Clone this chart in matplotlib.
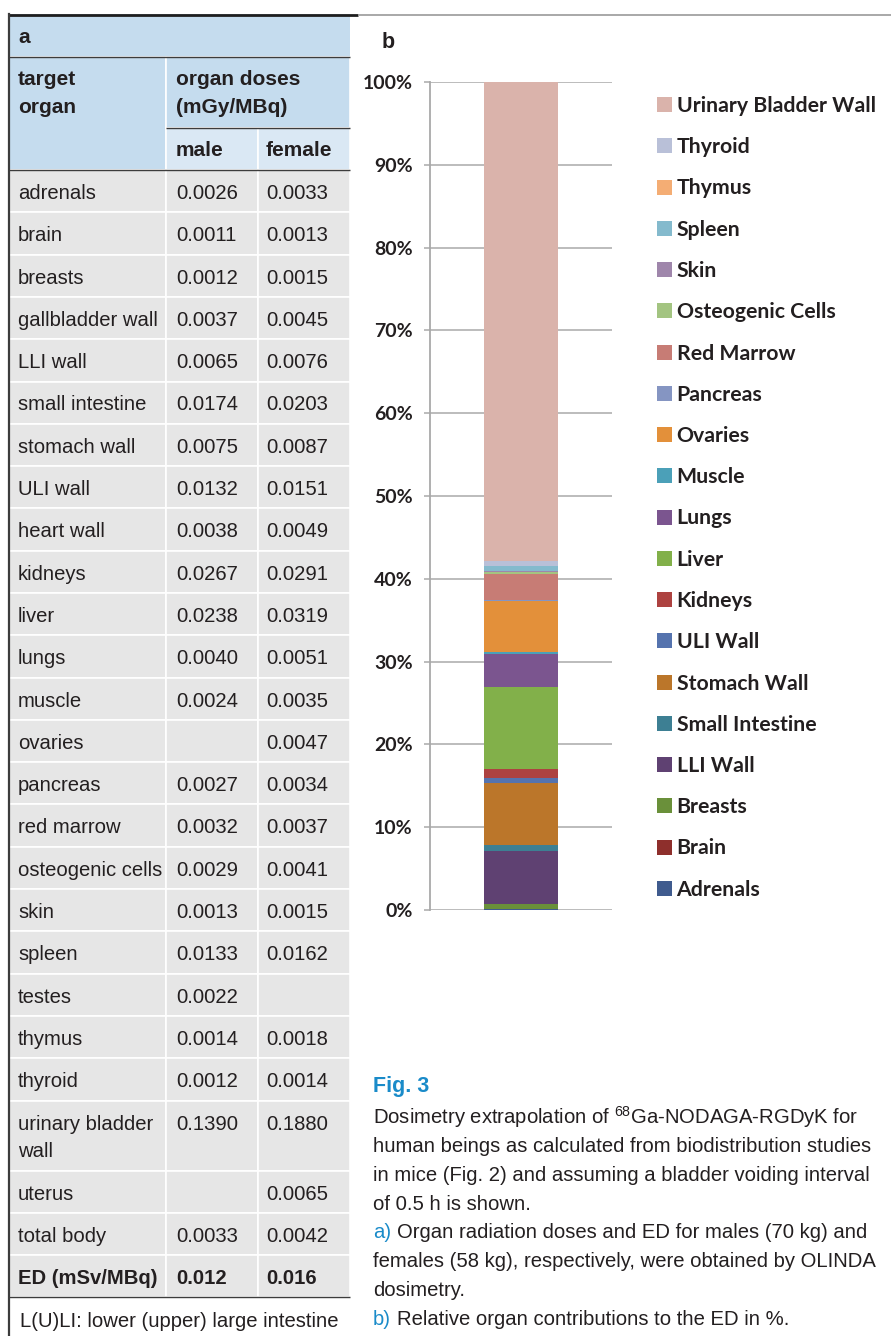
import matplotlib
matplotlib.use('agg')
import matplotlib.pyplot as plt
from matplotlib.patches import Rectangle
import numpy as np

nan = np.nan

# organ doses in mGy/MBq (nan = organ not present)
organs = ['adrenals', 'brain', 'breasts', 'gallbladder wall', 'LLI wall', 'small intestine',
          'stomach wall', 'ULI wall', 'heart wall', 'kidneys', 'liver', 'lungs', 'muscle',
          'ovaries', 'pancreas', 'red marrow', 'osteogenic cells', 'skin', 'spleen', 'testes',
          'thymus', 'thyroid', 'urinary bladder\nwall', 'uterus', 'total body']
male_dose = [0.0026, 0.0011, 0.0012, 0.0037, 0.0065, 0.0174, 0.0075, 0.0132, 0.0038, 0.0267,
             0.0238, 0.0040, 0.0024, nan, 0.0027, 0.0032, 0.0029, 0.0013, 0.0133, 0.0022,
             0.0014, 0.0012, 0.1390, nan, 0.0033]
female_dose = [0.0033, 0.0013, 0.0015, 0.0045, 0.0076, 0.0203, 0.0087, 0.0151, 0.0049, 0.0291,
               0.0319, 0.0051, 0.0035, 0.0047, 0.0034, 0.0037, 0.0041, 0.0015, 0.0162, nan,
               0.0018, 0.0014, 0.1880, 0.0065, 0.0042]
ed_male, ed_female = 0.012, 0.016

# relative contributions to the ED in %, stacked bottom to top
contrib_organs = ['Adrenals', 'Brain', 'Breasts', 'LLI Wall', 'Small Intestine', 'Stomach Wall',
                  'ULI Wall', 'Kidneys', 'Liver', 'Lungs', 'Muscle', 'Ovaries', 'Pancreas',
                  'Red Marrow', 'Osteogenic Cells', 'Skin', 'Spleen', 'Thymus', 'Thyroid',
                  'Urinary Bladder Wall']
contrib_pct = [0.12, 0.06, 0.55, 6.4, 0.73, 7.5, 0.56, 1.13, 9.9, 4.0, 0.24, 6.16, 0.08,
               3.2, 0.25, 0.12, 0.5, 0.05, 0.56, 57.89]
contrib_colors = ['#3f5b8e', '#8e2f2c', '#6a903a', '#5f4172', '#3d7f93', '#bb762a',
                  '#5573ae', '#ad4240', '#82b04a', '#7b558f', '#4ba0b8', '#e3903a',
                  '#8595c2', '#c77c75', '#a3c481', '#9f86ab', '#84bacd', '#f4ad74',
                  '#b9c0d8', '#dab3ab']

caption = ['Dosimetry extrapolation of $^{\\mathrm{68}}$Ga-NODAGA-RGDyK for',
           'human beings as calculated from biodistribution studies',
           'in mice (Fig. 2) and assuming a bladder voiding interval',
           'of 0.5 h is shown.',
           ('a)', 'Organ radiation doses and ED for males (70 kg) and'),
           'females (58 kg), respectively, were obtained by OLINDA',
           'dosimetry.',
           ('b)', 'Relative organ contributions to the ED in %.')]

SANS = 'Liberation Sans'
plt.rcParams['mathtext.fontset'] = 'custom'
plt.rcParams['mathtext.rm'] = SANS
INK = '#231f20'
BLUE_HEAD = '#c5dcee'
BLUE_SUB = '#dae8f4'
GREY_CELL = '#e6e6e6'
RULE = '#3c3c3c'
CAP_BLUE = '#1a8bc9'

W, H = 891, 1336
fig = plt.figure(figsize=(W / 100, H / 100), dpi=100)

# full-page canvas in pixel units for the table and caption
cv = fig.add_axes([0, 0, 1, 1])
cv.set_xlim(0, W)
cv.set_ylim(H, 0)
cv.axis('off')

def put(x, y, s, size=14.6, bold=False, color=INK, **kw):
    return cv.text(x, y, s, fontsize=size, family=SANS,
                   fontweight='bold' if bold else 'normal', color=color,
                   va='baseline', ha='left', **kw)

def cell(x0, x1, y0, y1, fc):
    cv.add_patch(Rectangle((x0, y0), x1 - x0, y1 - y0, facecolor=fc,
                           edgecolor='white', linewidth=1.2))

def hline(y, x0, x1, color=RULE, lw=1.0):
    cv.plot([x0, x1], [y, y], color=color, lw=lw, solid_capstyle='butt')

c0, c1, c2, c3 = 9, 166, 258, 350
tx = [18, 176, 266]

# header block
cv.add_patch(Rectangle((c0, 14), c3 - c0, 43, facecolor=BLUE_HEAD, lw=0))
cell(c0, c1, 57, 170, BLUE_HEAD)
cell(c1, c3, 57, 128, BLUE_HEAD)
cell(c1, c2, 128, 170, BLUE_SUB)
cell(c2, c3, 128, 170, BLUE_SUB)
put(tx[0], 43, 'a', bold=True, size=15)
put(tx[0], 85, 'target', bold=True, size=15)
put(tx[0], 113, 'organ', bold=True, size=15)
put(tx[1], 85, 'organ doses', bold=True, size=15)
put(tx[1], 113, '(mGy/MBq)', bold=True, size=15)
put(tx[1], 156, 'male', bold=True, size=15)
put(tx[2], 156, 'female', bold=True, size=15)

# body rows
row_h = 42.3
y = 170
for name, m, f in zip(organs, male_dose, female_dose):
    h = 70 if '\n' in name else row_h
    for x0, x1 in [(c0, c1), (c1, c2), (c2, c3)]:
        cell(x0, x1, y, y + h, GREY_CELL)
    base = y + 29
    for k, part in enumerate(name.split('\n')):
        put(tx[0], base + 27.7 * k, part)
    if not np.isnan(m):
        put(tx[1], base, f'{m:.4f}')
    if not np.isnan(f):
        put(tx[2], base, f'{f:.4f}')
    y += h

for x0, x1 in [(c0, c1), (c1, c2), (c2, c3)]:
    cell(x0, x1, y, y + row_h, GREY_CELL)
put(tx[0], y + 29, 'ED (mSv/MBq)', bold=True)
put(tx[1], y + 29, f'{ed_male:.3f}', bold=True)
put(tx[2], y + 29, f'{ed_female:.3f}', bold=True)
y_end = y + row_h
put(20, 1327, 'L(U)LI: lower (upper) large intestine')

# rules
hline(57, c0, c3)
hline(128, c1, c3)
hline(170, c0, c3)
hline(y_end, c0, c3)
hline(14.5, 8, 358, color='#1e1e1e', lw=2.0)
hline(14.5, 358, W, color='#9a9a9a', lw=1.2)
cv.plot([8.5, 8.5], [14, H], color=RULE, lw=1.6)

# caption: measure the width of a space so coloured run-ins line up
fig.canvas.draw()
rend = fig.canvas.get_renderer()
probe = put(100, 100, 'a a')
probe2 = put(100, 100, 'aa')
space = probe.get_window_extent(rend).width - probe2.get_window_extent(rend).width
probe.remove()
probe2.remove()

put(373, 1092, 'Fig. 3', size=15.5, bold=True, color=CAP_BLUE)
for i, line in enumerate(caption):
    yb = 1123.3 + 28.8 * i
    if isinstance(line, tuple):
        lab = put(373, yb, line[0], color=CAP_BLUE)
        put(373 + lab.get_window_extent(rend).width + space, yb, line[1])
    else:
        put(373, yb, line)

# panel b: stacked bar of ED contributions
ax = fig.add_axes([430 / W, 1 - 910 / H, 182 / W, 828 / H])
bottom = 0.0
handles = []
for name, pct, col in zip(contrib_organs, contrib_pct, contrib_colors):
    b = ax.bar(0, pct, width=0.41, bottom=bottom, color=col, label=name, zorder=3)
    handles.append(b)
    bottom += pct

ax.set_xlim(-0.5, 0.5)
ax.set_ylim(0, 100)
ax.set_yticks(np.arange(0, 101, 10))
ax.set_yticklabels([f'{v}%' for v in range(0, 101, 10)],
                   fontsize=14, fontweight='bold', family='Lato', color=INK)
ax.set_xticks([])
ax.grid(axis='y', color='#a9a9a9', lw=1.1, zorder=0)
ax.set_axisbelow(True)
for s in ['top', 'right', 'bottom']:
    ax.spines[s].set_visible(False)
ax.spines['left'].set_color('#a9a9a9')
ax.spines['left'].set_linewidth(1.3)
ax.tick_params(axis='y', length=4.5, width=1.1, color='#a9a9a9', pad=8)
ax.patch.set_alpha(0)

put(382, 48, 'b', size=15.5, bold=True)

fig.legend(handles[::-1], contrib_organs[::-1], loc='upper left',
           bbox_to_anchor=(657 / W, 1 - 96 / H), frameon=False, borderpad=0,
           borderaxespad=0, prop={'family': 'Lato', 'weight': 'bold', 'size': 15.3},
           labelcolor=INK, handlelength=0.7, handleheight=0.7,
           handletextpad=0.22, labelspacing=1.0)

fig.savefig('out.png', dpi=100)
